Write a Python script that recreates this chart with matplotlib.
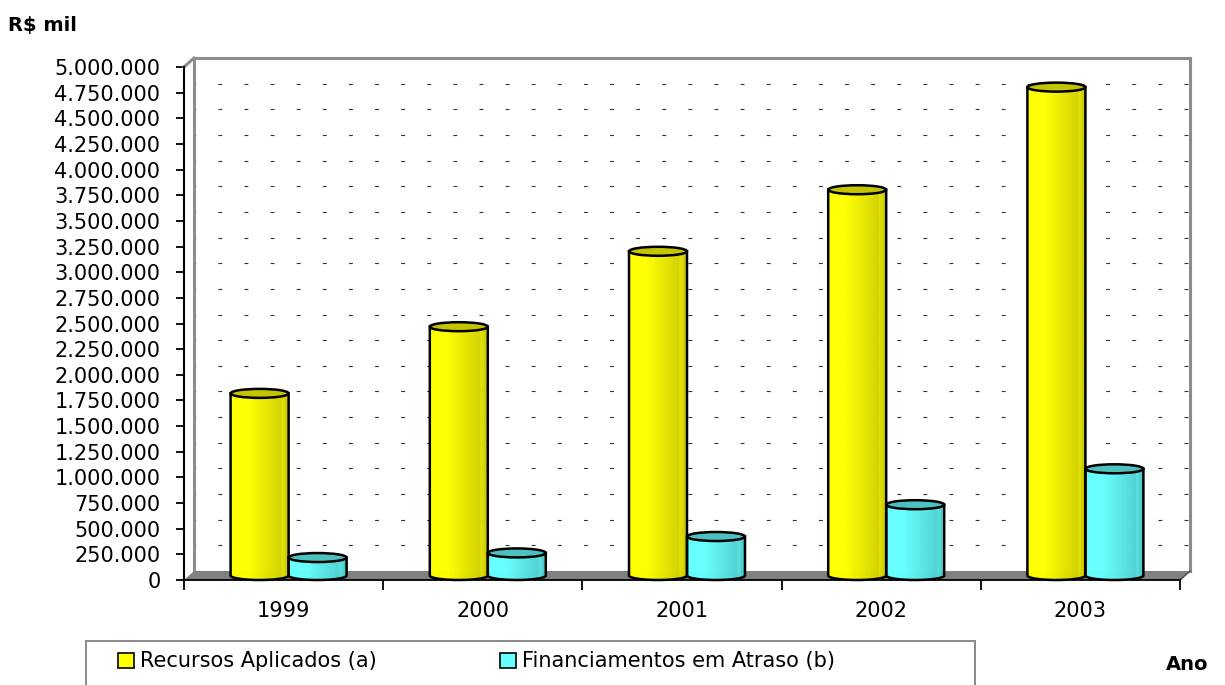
import numpy as np
import matplotlib
matplotlib.use('Agg')
import matplotlib.pyplot as plt
from matplotlib.patches import Ellipse, Polygon, Patch, Rectangle
from matplotlib.transforms import ScaledTranslation, IdentityTransform
from matplotlib.colors import LinearSegmentedColormap
from matplotlib.lines import Line2D

# === Data ===
anos = ['1999', '2000', '2001', '2002', '2003']
recursos = [1775000, 2425000, 3160000, 3760000, 4760000]
atraso = [175000, 220000, 380000, 690000, 1040000]
series = ['Recursos Aplicados (a)', 'Financiamentos em Atraso (b)']
yticks = np.arange(0, 5000001, 250000)

plt.rcParams['font.family'] = ['DejaVu Sans']

W, H, DPI = 1225, 685, 100
fig = plt.figure(figsize=(W / DPI, H / DPI), dpi=DPI)
ax = fig.add_axes([184 / W, 105 / H, 996 / W, 513 / H])
ax.set_xlim(-0.5, 4.5)
ax.set_ylim(0, 5000000)

# depth offset of the 3D box (pixels)
DX, DY = 10, 9
back = ax.transData + ScaledTranslation(DX / DPI, DY / DPI, fig.dpi_scale_trans)
mid = ax.transData + ScaledTranslation(DX / 2 / DPI, DY / 2 / DPI, fig.dpi_scale_trans)
px = 5000000 / 513.0  # data units per pixel

# === Back wall + gridlines ===
for v in yticks[1:-1]:
    ax.plot([-0.5, 4.5], [v, v], transform=back, color='#333333', lw=0.8,
            ls=(2, (3.5, 20)), zorder=1, clip_on=False)
ax.plot([-0.5, -0.5, 4.5, 4.5], [0, 5000000, 5000000, 0], transform=back,
        color='#8c8c8c', lw=2.2, zorder=1, clip_on=False, solid_joinstyle='miter')

# === Floor (inside the axes so bars draw over it) ===
f0 = ax.transData.transform((-0.5, 0))
f1 = ax.transData.transform((4.5, 0))
off = np.array([DX, DY])
floor = Polygon([f0, f1, f1 + off, f0 + off], closed=True, fc='#808080',
                ec='none', transform=IdentityTransform(), zorder=2, clip_on=False)
ax.add_artist(floor)
ax.add_artist(Line2D([f1[0], f1[0] + DX], [f1[1], f1[1] + DY], color='#555555',
                     lw=1.2, transform=IdentityTransform(), zorder=2, clip_on=False))
t0 = ax.transData.transform((-0.5, 5000000))
ax.add_artist(Line2D([t0[0], t0[0] + DX], [t0[1], t0[1] + DY], color='#8c8c8c',
                     lw=2.2, transform=IdentityTransform(), zorder=2, clip_on=False))

# === Cylinders ===
cmap_y = LinearSegmentedColormap.from_list('y', [
    (0.0, '#FFFF00'), (0.3, '#FFFF00'), (0.55, '#EBEB00'), (0.75, '#DCDC00'),
    (0.86, '#D2D200'), (0.9, '#E4E400'), (0.94, '#D0D000'), (1.0, '#C4C400')])
cmap_c = LinearSegmentedColormap.from_list('c', [
    (0.0, '#66FFFF'), (0.3, '#66FFFF'), (0.55, '#5CEBEB'), (0.75, '#55DCDC'),
    (0.86, '#50D2D2'), (0.9, '#5CE2E2'), (0.94, '#4FCFCF'), (1.0, '#48C4C4')])

bw = 58 / 199.2
eb = 4.5 * px


def cylinder(xc, h, cmap, top_color):
    a = bw / 2
    n = 30
    xs = np.linspace(xc - a, xc + a, n + 1)
    for i in range(n):
        xx = np.linspace(xs[i], xs[i + 1], 5)
        ybot = -eb * np.sqrt(np.clip(1 - ((xx - xc) / a) ** 2, 0, 1))
        col = cmap((i + 0.5) / n)
        ax.fill_between(xx, ybot, h, color=col, lw=0.4, ec=col,
                        transform=mid, zorder=4, clip_on=False)
    th = np.linspace(np.pi, 2 * np.pi, 60)
    ox = np.concatenate([[xc - a], xc + a * np.cos(th), [xc + a]])
    oy = np.concatenate([[h], eb * np.sin(th), [h]])
    ax.plot(ox, oy, color='black', lw=1.8, transform=mid, zorder=5,
            clip_on=False, solid_joinstyle='round')
    ax.add_patch(Ellipse((xc, h), 2 * a, 2 * eb, fc=top_color, ec='black',
                         lw=1.8, transform=mid, zorder=6, clip_on=False))


for i in range(len(anos)):
    cylinder(i + bw / 2, atraso[i], cmap_c, '#4DC0C0')
    cylinder(i - bw / 2, recursos[i], cmap_y, '#C4C400')

# === Axes formatting ===
for s in ['top', 'right']:
    ax.spines[s].set_visible(False)
ax.spines['left'].set_linewidth(1.5)
ax.spines['bottom'].set_linewidth(1.3)
ax.spines['left'].set_zorder(3)
ax.spines['bottom'].set_zorder(3)
ax.patch.set_visible(False)

ax.set_yticks(yticks)
ax.set_yticklabels([f'{int(v):,}'.replace(',', '.') for v in yticks])
ax.tick_params(axis='y', direction='out', length=6, width=1.3, pad=11,
               labelsize=15, colors='black')
ax.set_xticks(range(len(anos)))
ax.set_xticklabels(anos)
ax.set_xticks(np.arange(-0.5, 5, 1), minor=True)
ax.tick_params(axis='x', which='major', length=0, pad=15, labelsize=15)
ax.tick_params(axis='x', which='minor', direction='out', length=7, width=1.3)

fig.text(8 / W, 1 - 25 / H, 'R$ mil', fontsize=14, fontweight='bold',
         va='center', ha='left')
fig.text(1166 / W, 1 - 665 / H, 'Ano', fontsize=14, fontweight='bold',
         va='center', ha='left')

# === Legend ===
handles = [Patch(fc='#FFFF00', ec='black', lw=1.2),
           Patch(fc='#66FFFF', ec='black', lw=1.2)]
leg = fig.legend(handles, series, ncol=2, loc='upper left',
                 bbox_to_anchor=(108 / W, 1 - 641 / H),
                 fontsize=15, frameon=False, handlelength=0.75,
                 handleheight=0.75, handletextpad=0.3, borderpad=0.5,
                 borderaxespad=0, columnspacing=5.9)
fig.add_artist(Rectangle((86 / W, -0.02), (975 - 86) / W, 0.02 + 1 - 641 / H,
                         transform=fig.transFigure, fill=False,
                         ec='#808080', lw=1.3))

fig.savefig('out.png', dpi=DPI)
